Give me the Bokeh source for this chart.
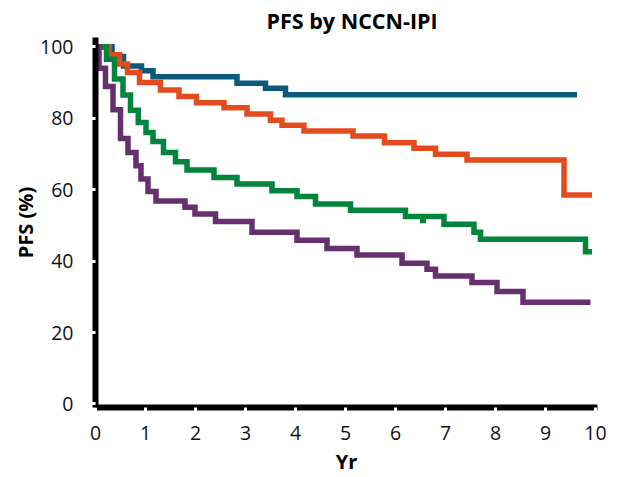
from bokeh.plotting import figure
from bokeh.models import Range1d, FixedTicker
from bokeh.embed import file_html
from bokeh.resources import INLINE

# Kaplan-Meier style PFS curves by NCCN-IPI risk group (years, percent)
yr_low = [0, 0.33, 0.56, 0.92, 1.15, 2.83, 3.4, 3.8, 9.63]
pfs_low = [100, 97.3, 94.6, 93.3, 91.6, 89.8, 88.4, 86.6, 86.6]

yr_low_int = [0, 0.27, 0.48, 0.64, 0.88, 1.3, 1.67, 2.02, 2.57, 3.03, 3.5, 3.73,
              4.17, 5.15, 5.78, 6.37, 6.8, 7.43, 9.37, 9.93]
pfs_low_int = [100, 97.8, 95.2, 92.8, 90.0, 87.9, 86.1, 84.3, 82.9, 81.2, 79.4, 78.0,
               76.4, 75.0, 73.1, 71.6, 69.9, 68.3, 58.5, 58.5]

yr_high_int = [0, 0.22, 0.38, 0.55, 0.70, 0.855, 1.01, 1.15, 1.36, 1.6, 1.83, 2.37,
               2.83, 3.53, 4.03, 4.4, 5.1, 6.2, 6.97, 7.57, 7.7, 9.8, 9.93]
pfs_high_int = [100, 96.5, 91.0, 86.5, 82.2, 78.8, 76.0, 73.5, 70.4, 67.8, 65.5, 63.4,
                61.6, 59.7, 58.1, 56.0, 54.2, 52.5, 50.3, 48.1, 46.1, 42.6, 42.6]
censor_yr_high_int = [6.55]
censor_pfs_high_int = [52.5]

yr_high = [0, 0.07, 0.2, 0.35, 0.5, 0.65, 0.81, 0.91, 1.05, 1.21, 1.79, 1.99, 2.4,
           3.13, 4.03, 4.63, 5.23, 6.13, 6.63, 6.8, 7.53, 8.03, 8.55, 9.9]
pfs_high = [100, 94.0, 88.9, 82.4, 74.3, 70.4, 66.7, 63.0, 59.5, 56.8, 55.1, 53.2, 51.1,
            48.1, 45.8, 43.5, 41.7, 39.4, 37.7, 35.8, 34.0, 31.5, 28.5, 28.5]

x_ticks = [0, 1, 2, 3, 4, 5, 6, 7, 8, 9, 10]
y_ticks = [0, 20, 40, 60, 80, 100]

TICK_FONT = "Open Sans"

p = figure(width=617, height=477, output_backend="svg", toolbar_location=None,
           x_range=Range1d(0, 10.04), y_range=Range1d(-1, 102.6),
           min_border_left=95, min_border_right=20, min_border_top=36,
           min_border_bottom=68)

p.outline_line_color = None
p.xgrid.visible = False
p.ygrid.visible = False
p.background_fill_color = "white"
p.border_fill_color = "white"

p.title.text = "PFS by NCCN-IPI"
p.title.align = "left"
p.title.offset = 171
p.title.text_font = TICK_FONT
p.title.text_font_size = "21.5px"
p.title.text_font_style = "bold"
p.title.text_color = "black"
p.title.standoff = 6

for ax in (p.xaxis[0], p.yaxis[0]):
    ax.axis_line_color = "black"
    ax.axis_line_width = 6
    ax.major_tick_line_color = "white"
    ax.major_tick_line_width = 3
    ax.major_tick_in = 0
    ax.major_tick_out = 4
    ax.minor_tick_line_color = None
    ax.major_label_text_font = TICK_FONT
    ax.major_label_text_font_size = "19.5px"
    ax.major_label_text_color = "#111111"
    ax.axis_label_text_font = TICK_FONT
    ax.axis_label_text_font_size = "20px"
    ax.axis_label_text_font_style = "bold"
    ax.axis_label_text_color = "black"

p.xaxis.ticker = FixedTicker(ticks=x_ticks)
p.yaxis.ticker = FixedTicker(ticks=y_ticks)
p.xaxis.axis_label = "Yr"
p.yaxis.axis_label = "PFS (%)"
p.xaxis.major_label_standoff = 14
p.xaxis.axis_label_standoff = 5
p.yaxis.major_label_standoff = 18
p.yaxis.axis_label_standoff = -2

curves = [
    (yr_low, pfs_low, "#0A5A78"),
    (yr_low_int, pfs_low_int, "#E34B1F"),
    (yr_high_int, pfs_high_int, "#03843C"),
    (yr_high, pfs_high, "#66306F"),
]
for xs, ys, color in curves:
    p.step(xs, ys, mode="after", line_color=color, line_width=5.5,
           line_join="miter", line_cap="butt")

# censoring tick on the high-intermediate curve
p.segment(x0=censor_yr_high_int, y0=censor_pfs_high_int,
          x1=censor_yr_high_int, y1=[v - 1.9 for v in censor_pfs_high_int],
          line_color="#03843C", line_width=6, line_cap="butt")

open("out.html", "w").write(file_html(p, INLINE))
